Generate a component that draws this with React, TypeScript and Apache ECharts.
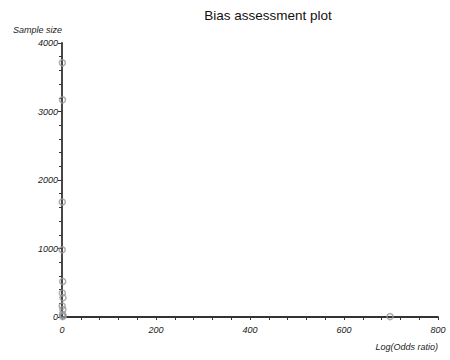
import React, { useEffect, useRef } from "react";
import * as echarts from "echarts";

// Study estimates: log odds ratio vs. sample size
const logOddsRatio = [0.8, 1.1, 0.6, -0.4, 0.3, 1.5, -0.9, 0.7, 2.1, -1.2, 0.4, 1.8, -0.6, 0.9, 2.5, 1.3, 698];
const sampleSize = [3710, 3170, 1680, 1230, 980, 520, 440, 350, 280, 220, 160, 110, 70, 40, 20, 8, 6];

const xTicks = [0, 200, 400, 600, 800];
const yTicks = [0, 1000, 2000, 3000, 4000];

const titleText = "Bias assessment plot";
const xName = "Log(Odds ratio)";
const yName = "Sample size";

export default function App() {
  const ref = useRef<HTMLDivElement>(null);

  useEffect(() => {
    if (!ref.current) return;
    const chart = echarts.init(ref.current, null, { renderer: "svg" });
    const points = logOddsRatio.map((x, i) => [x, sampleSize[i]]);
    const font = "Liberation Sans, Arial, sans-serif";
    const axisColor = "#333";
    const plain = (v: number) => String(v);

    chart.setOption({
      animation: false,
      backgroundColor: "#fff",
      title: {
        text: titleText,
        left: 263,
        top: 3,
        textAlign: "center",
        textStyle: { fontFamily: font, fontSize: 13.5, fontWeight: "normal", color: "#111" },
      },
      grid: { left: 62, right: 12, top: 43, bottom: 43 },
      xAxis: {
        type: "value",
        min: xTicks[0],
        max: xTicks[xTicks.length - 1],
        interval: 200,
        name: xName,
        nameLocation: "end",
        nameGap: 0,
        nameTextStyle: {
          fontFamily: font,
          fontSize: 9,
          fontStyle: "italic",
          color: "#222",
          align: "right",
          verticalAlign: "top",
          padding: [25, 0, 0, 0],
        },
        axisLine: { onZero: false, lineStyle: { color: axisColor, width: 1.8 } },
        axisTick: { show: true, inside: false, length: 3, lineStyle: { color: axisColor } },
        minorTick: { show: true, splitNumber: 5, length: 3, lineStyle: { color: axisColor } },
        axisLabel: {
          fontFamily: font,
          fontSize: 9,
          fontStyle: "italic",
          color: "#222",
          margin: 8,
          formatter: plain,
        },
        splitLine: { show: false },
      },
      yAxis: {
        type: "value",
        min: yTicks[0],
        max: yTicks[yTicks.length - 1],
        interval: 1000,
        name: yName,
        nameLocation: "end",
        nameGap: 9,
        nameTextStyle: {
          fontFamily: font,
          fontSize: 9,
          fontStyle: "italic",
          color: "#222",
          align: "right",
        },
        axisLine: { onZero: false, lineStyle: { color: axisColor, width: 1.8 } },
        axisTick: { show: true, inside: false, length: 4, lineStyle: { color: axisColor } },
        minorTick: { show: true, splitNumber: 5, length: 3, lineStyle: { color: axisColor } },
        axisLabel: {
          fontFamily: font,
          fontSize: 9,
          fontStyle: "italic",
          color: "#222",
          margin: 4,
          formatter: plain,
        },
        splitLine: { show: false },
      },
      series: [
        {
          type: "scatter",
          data: points,
          symbol: "circle",
          symbolSize: 6,
          itemStyle: { color: "rgba(255,255,255,0)", borderColor: "#999", borderWidth: 1.5 },
          z: 3,
        },
      ],
    });

    return () => chart.dispose();
  }, []);

  return (
    <div
      ref={ref}
      style={{ position: "fixed", left: 0, top: 0, width: 450, height: 360 }}
    />
  );
}
